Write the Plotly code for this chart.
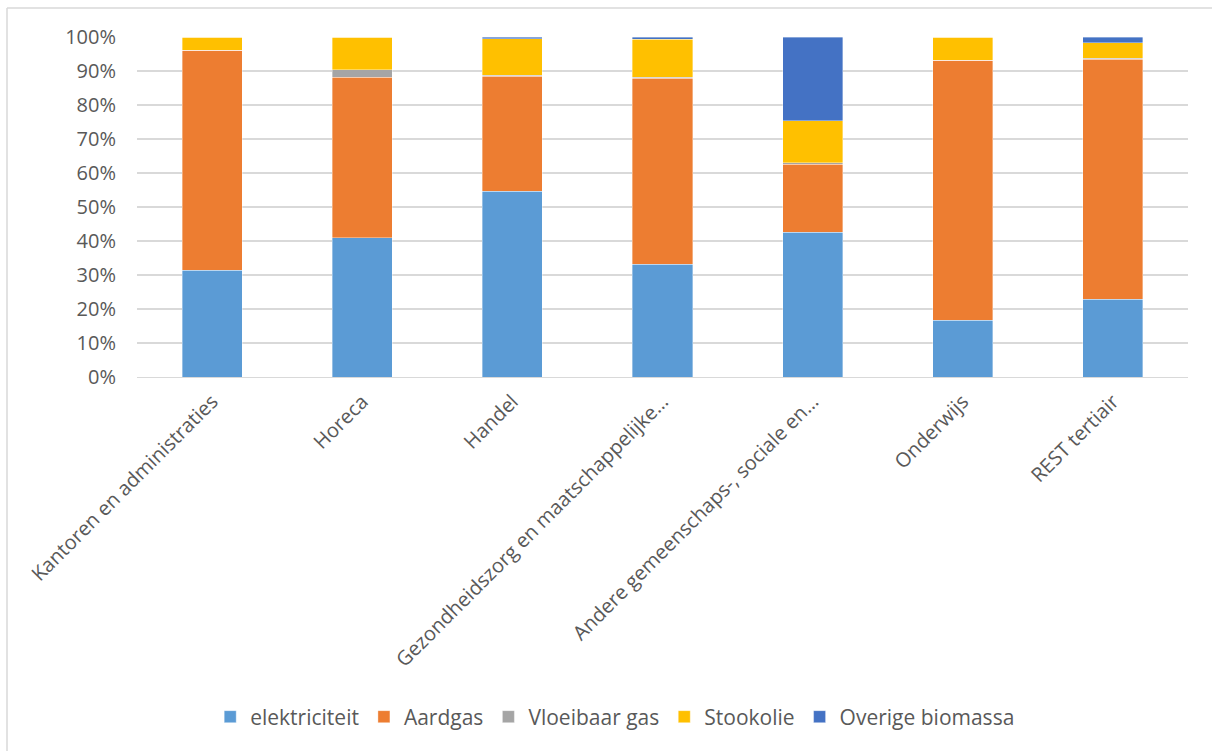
import plotly.graph_objects as go

# Sectors of the tertiary sector
categories = [
    "Kantoren en administraties",
    "Horeca",
    "Handel",
    "Gezondheidszorg en maatschappelijke…",
    "Andere gemeenschaps-, sociale en…",
    "Onderwijs",
    "REST tertiair",
]

# Share of each energy carrier per sector (%)
elektriciteit = [31.4, 41.0, 54.6, 33.1, 42.6, 16.7, 22.9]
aardgas = [64.7, 47.2, 33.8, 54.8, 20.0, 76.5, 70.6]
vloeibaar_gas = [0.0, 2.1, 0.4, 0.2, 0.4, 0.0, 0.3]
stookolie = [3.9, 9.7, 10.7, 11.3, 12.3, 6.8, 4.5]
overige_biomassa = [0.0, 0.0, 0.5, 0.6, 24.7, 0.0, 1.7]

y_ticks = [0, 10, 20, 30, 40, 50, 60, 70, 80, 90, 100]
y_tick_labels = ["0%", "10%", "20%", "30%", "40%", "50%", "60%", "70%", "80%", "90%", "100%"]

series = [
    ("elektriciteit", elektriciteit, "#5B9BD5"),
    ("Aardgas", aardgas, "#ED7D31"),
    ("Vloeibaar gas", vloeibaar_gas, "#A5A5A5"),
    ("Stookolie", stookolie, "#FFC000"),
    ("Overige biomassa", overige_biomassa, "#4472C4"),
]

FONT = "Open Sans"
TEXT = "#595959"

fig = go.Figure()
for name, values, color in series:
    fig.add_trace(go.Bar(
        x=categories, y=values, name=name,
        marker=dict(color=color, line=dict(color="rgba(255,255,255,0.6)", width=0.6)),
    ))

fig.update_layout(
    width=1212, height=751,
    barmode="stack", bargap=0.6,
    paper_bgcolor="white", plot_bgcolor="white",
    margin=dict(l=137, r=24, t=37, b=374),
    font=dict(family=FONT, color=TEXT, size=20),
    showlegend=True,
    legend=dict(
        orientation="h", x=0.455, xanchor="center", y=-1.0, yanchor="middle",
        font=dict(size=21, color=TEXT), traceorder="normal",
        itemwidth=30, tracegroupgap=0,
    ),
    xaxis=dict(
        tickangle=-45, tickfont=dict(size=20, color=TEXT),
        showline=True, linecolor="#d9d9d9", linewidth=1,
        ticks="", showgrid=False, ticklabelstandoff=4,
    ),
    yaxis=dict(
        range=[0, 100], tickmode="array", tickvals=y_ticks, ticktext=y_tick_labels,
        tickfont=dict(size=20, color=TEXT),
        showgrid=True, gridcolor="#d9d9d9", gridwidth=1.5,
        zeroline=False, ticks="", showline=False, ticklabelstandoff=20,
    ),
)

# Chart-area frame (top and left edges)
fig.add_shape(type="line", xref="paper", yref="paper",
              x0=-130 / 1051, x1=1.05, y0=369 / 340, y1=369 / 340,
              line=dict(color="#d9d9d9", width=1.5))
fig.add_shape(type="line", xref="paper", yref="paper",
              x0=-130 / 1051, x1=-130 / 1051, y0=369 / 340, y1=-1.2,
              line=dict(color="#d9d9d9", width=1.5))

fig.write_html("out.html")
